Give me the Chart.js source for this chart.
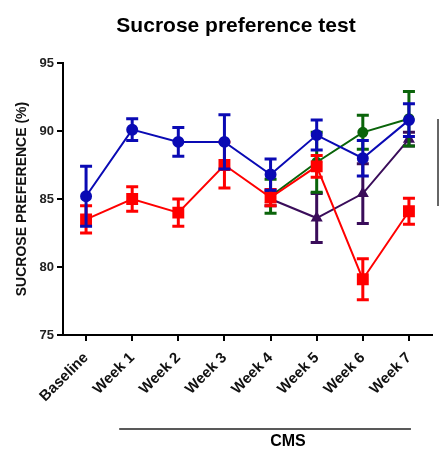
<!DOCTYPE html>
<html>
<head>
<meta charset="utf-8">
<script src="https://cdn.jsdelivr.net/npm/chart.js@4"></script>
<style>
  html, body { margin: 0; padding: 0; background: #fff; }
  #wrap { width: 441px; height: 452px; }
</style>
</head>
<body>
<div id="wrap"><canvas id="chart"></canvas></div>
<script>
// Dados
const weeks = ['Baseline', 'Week 1', 'Week 2', 'Week 3', 'Week 4', 'Week 5', 'Week 6', 'Week 7'];
const yTicks = [75, 80, 85, 90, 95];

const blueMean = [85.2, 90.1, 89.2, 89.2, 86.8, 89.7, 88.0, 90.8];
const blueErr  = [2.2, 0.8, 1.05, 2.0, 1.15, 1.1, 1.3, 1.2];
const redMean  = [83.5, 85.0, 84.0, 87.5, 85.1, 87.4, 79.1, 84.1];
const redErr   = [1.0, 0.9, 1.0, 1.7, 0.6, 0.8, 1.5, 0.95];
const greenMean = [null, null, null, null, 85.2, 87.7, 89.9, 90.9];
const greenErr  = [null, null, null, null, 1.25, 2.2, 1.25, 2.0];
const purpleMean = [null, null, null, null, 85.0, 83.6, 85.4, 89.4];
const purpleErr  = [null, null, null, null, 0.5, 1.8, 2.2, 0.5];

const FONT = '"Liberation Sans", Arial, sans-serif';

function serie(data, err, color, style, radius) {
    return {
        data: data,
        err: err,
        borderColor: color,
        backgroundColor: color,
        pointBackgroundColor: color,
        pointBorderColor: color,
        pointStyle: style,
        pointRadius: radius,
        borderWidth: 2,
        tension: 0,
        spanGaps: false
    };
}

// Barras de erro (média ± erro) desenhadas pela escala y
const errorBars = {
    id: 'errorBars',
    afterDatasetDraw(chart, args) {
        const ds = chart.data.datasets[args.index];
        const meta = args.meta;
        const y = chart.scales.y;
        const ctx = chart.ctx;
        ctx.save();
        ctx.strokeStyle = ds.borderColor;
        ctx.lineWidth = 3;
        meta.data.forEach((pt, i) => {
            const m = ds.data[i], e = ds.err[i];
            if (m == null || e == null) return;
            const top = y.getPixelForValue(m + e);
            const bot = y.getPixelForValue(m - e);
            ctx.beginPath();
            ctx.moveTo(pt.x, top); ctx.lineTo(pt.x, bot);
            ctx.moveTo(pt.x - 6, top); ctx.lineTo(pt.x + 6, top);
            ctx.moveTo(pt.x - 6, bot); ctx.lineTo(pt.x + 6, bot);
            ctx.stroke();
        });
        ctx.restore();
    }
};

// Título, traço CMS e marca lateral
const extras = {
    id: 'extras',
    afterDraw(chart) {
        const ctx = chart.ctx;
        const x = chart.scales.x;
        ctx.save();
        ctx.fillStyle = '#000';
        ctx.textAlign = 'center';
        ctx.textBaseline = 'middle';
        ctx.font = 'bold 21px ' + FONT;
        ctx.fillText('Sucrose preference test', 236, 26);

        const x1 = x.getPixelForValue(1) - 13;
        const x2 = x.getPixelForValue(7) + 2;
        ctx.strokeStyle = '#222';
        ctx.lineWidth = 1.5;
        ctx.beginPath();
        ctx.moveTo(x1, 429); ctx.lineTo(x2, 429);
        ctx.stroke();
        ctx.font = 'bold 16px ' + FONT;
        ctx.fillText('CMS', 288, 442);

        ctx.strokeStyle = '#666';
        ctx.lineWidth = 2;
        ctx.beginPath();
        ctx.moveTo(438, 119); ctx.lineTo(438, 206);
        ctx.stroke();
        ctx.restore();
    }
};

const ctx = document.getElementById('chart').getContext('2d');
new Chart(ctx, {
    type: 'line',
    data: {
        labels: weeks,
        datasets: [
            serie(blueMean, blueErr, '#0a0ab4', 'circle', 5),
            serie(redMean, redErr, '#ff0000', 'rect', 7),
            serie(greenMean, greenErr, '#0a640a', 'circle', 4.5),
            serie(purpleMean, purpleErr, '#3a0d5a', 'triangle', 5)
        ]
    },
    options: {
        responsive: true,
        maintainAspectRatio: false,
        animation: false,
        layout: { padding: { top: 63, right: 0, left: 0, bottom: 0 } },
        plugins: { legend: { display: false }, tooltip: { enabled: false } },
        scales: {
            x: {
                type: 'category',
                offset: true,
                grid: { offset: false, drawOnChartArea: false, drawTicks: true, tickLength: 6, color: '#000', lineWidth: 2 },
                border: { display: true, color: '#000', width: 2 },
                ticks: {
                    color: '#111',
                    font: { family: FONT, size: 15, weight: 'bold' },
                    minRotation: 45, maxRotation: 45,
                    padding: 8
                },
                afterFit: s => { s.height = 117; }
            },
            y: {
                min: 75, max: 95,
                afterBuildTicks: s => { s.ticks = yTicks.map(v => ({ value: v })); },
                grid: { drawOnChartArea: false, drawTicks: true, tickLength: 6, color: '#000', lineWidth: 2 },
                border: { display: true, color: '#000', width: 2 },
                ticks: {
                    color: '#222',
                    font: { family: FONT, size: 13, weight: 'bold' },
                    padding: 3
                },
                title: {
                    display: true,
                    text: 'SUCROSE PREFERENCE (%)',
                    color: '#111',
                    font: { family: FONT, size: 14, weight: 'bold' },
                    padding: { top: 14, bottom: 0 }
                },
                afterFit: s => { s.width = 63; }
            }
        }
    },
    plugins: [errorBars, extras]
});
</script>
</body>
</html>
